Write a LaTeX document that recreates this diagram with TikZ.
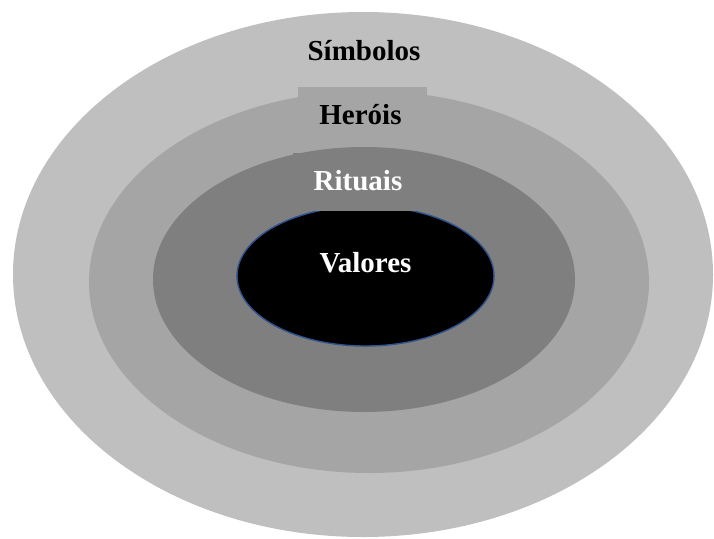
\documentclass[tikz,border=0pt]{standalone}
\usepackage{fontspec}
\setmainfont{Liberation Serif}
\definecolor{ringA}{RGB}{191,191,191}
\definecolor{ringB}{RGB}{165,165,165}
\definecolor{ringC}{RGB}{127,127,127}
\definecolor{coreline}{RGB}{47,82,143}
\begin{document}
\begin{tikzpicture}[x=1pt,y=-1pt,
  lbl/.style={anchor=base,inner sep=0pt,font=\fontsize{29}{29}\selectfont\bfseries}]
\useasboundingbox (0,0) rectangle (714,538);
\begin{scope}
\clip (0,0) rectangle (714,538);
\fill[ringA] (363,274.5) ellipse [x radius=350,y radius=262.5];
\fill[ringB] (369,282) ellipse [x radius=280,y radius=191];
\fill[ringB] (298,87) rectangle (427,140);
\fill[ringC] (364,279.5) ellipse [x radius=211,y radius=132.5];
\filldraw[fill=black,draw=coreline,line width=1.4pt] (365.5,276) ellipse [x radius=128.5,y radius=70];
\fill[ringC] (293,153) rectangle (424,211);
\end{scope}
\node[lbl,text=black] (simbolos) at (364,60.7) {Símbolos};
\node[lbl,text=black] (herois) at (360.5,124) {Heróis};
\node[lbl,text=white] (rituais) at (358,190) {Rituais};
\node[lbl,text=white] (valores) at (365.5,272) {Valores};
\end{tikzpicture}
\end{document}
